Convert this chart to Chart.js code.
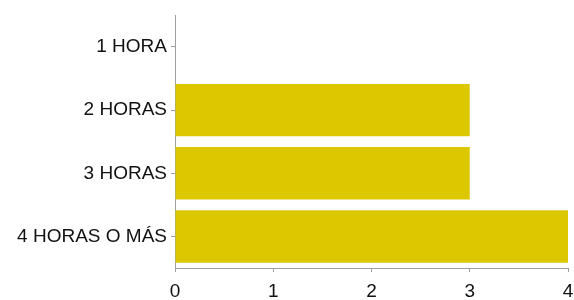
<!DOCTYPE html>
<html>
<head>
<meta charset="utf-8">
<script src="https://cdn.jsdelivr.net/npm/chart.js@4/dist/chart.umd.min.js"></script>
<style>
  html, body { margin: 0; padding: 0; background: #fff; }
  #wrap { width: 574px; height: 300px; }
</style>
</head>
<body>
<div id="wrap"><canvas id="chart1"></canvas></div>
<script>
// data
var categories = ["1 HORA", "2 HORAS", "3 HORAS", "4 HORAS O MÁS"];
var values = [0, 3, 3, 4];
var xTicks = [0, 1, 2, 3, 4];

var font = {
    family: "'Liberation Sans', Arial, sans-serif",
    size: 19
};

var options = {
    indexAxis: 'y',
    responsive: true,
    maintainAspectRatio: false,
    animation: false,
    layout: {
        padding: { top: 6, right: 0, left: 0, bottom: 0 }
    },
    plugins: {
        legend: { display: false },
        tooltip: { enabled: false }
    },
    scales: {
        x: {
            min: 0,
            max: 4,
            afterBuildTicks: function (s) {
                s.ticks = xTicks.map(function (v) { return { value: v }; });
            },
            afterFit: function (s) { s.height = 32; s.paddingRight = 6; },
            border: { color: '#a0a0a0', width: 1 },
            grid: { drawOnChartArea: false, tickLength: 4, color: '#a0a0a0' },
            ticks: { color: '#111', font: font, padding: 8 }
        },
        y: {
            afterFit: function (s) { s.width = 175; },
            border: { color: '#a0a0a0', width: 1 },
            grid: { drawOnChartArea: false, offset: false, tickLength: 4, color: '#a0a0a0' },
            ticks: { color: '#111', font: font, padding: 4 }
        }
    }
};

var ctx = document.getElementById("chart1").getContext("2d");
new Chart(ctx, {
    type: 'bar',
    data: {
        labels: categories,
        datasets: [
            {
                data: values,
                backgroundColor: '#dcc700',
                borderWidth: 0,
                categoryPercentage: 1,
                barPercentage: 0.83
            }
        ]
    },
    options: options
});
</script>
</body>
</html>
